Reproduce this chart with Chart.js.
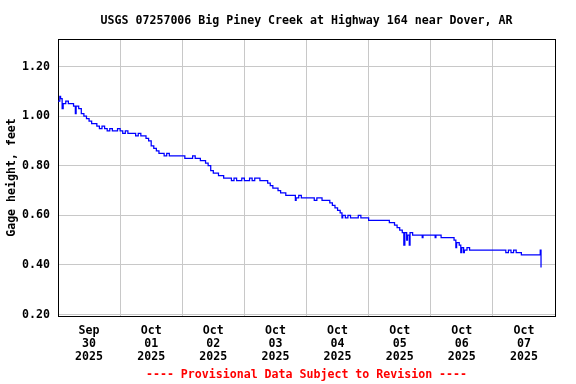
<!DOCTYPE html>
<html><head><meta charset="utf-8">
<script src="https://cdn.jsdelivr.net/npm/chart.js@4/dist/chart.umd.min.js"></script>
<style>html,body{margin:0;padding:0;background:#fff}#wrap{width:576px;height:384px}</style>
</head><body><div id="wrap"><canvas id="c" width="576" height="384"></canvas></div>
<script>
const titleText = 'USGS 07257006 Big Piney Creek at Highway 164 near Dover, AR';
const yAxisTitle = 'Gage height, feet';
const footerText = '---- Provisional Data Subject to Revision ----';
const tickMonths = ['Sep', 'Oct', 'Oct', 'Oct', 'Oct', 'Oct', 'Oct', 'Oct'];
const tickDays = ['30', '01', '02', '03', '04', '05', '06', '07'];
const tickYears = ['2025', '2025', '2025', '2025', '2025', '2025', '2025', '2025'];
const yTicks = [0.20, 0.40, 0.60, 0.80, 1.00, 1.20];
// hourly gage height (feet), hour 0 = Sep 30 00:00
const gageHourly = [
1.06,1.07,1.05,1.06,1.05,1.05,1.04,1.04,1.03,1.01,
1.00,0.99,0.98,0.97,0.97,0.96,0.95,0.96,0.95,0.94,
0.95,0.94,0.94,0.95,0.94,0.93,0.94,0.93,0.93,0.93,
0.92,0.93,0.92,0.92,0.91,0.90,0.88,0.87,0.86,0.85,
0.85,0.84,0.85,0.84,0.84,0.84,0.84,0.84,0.84,0.83,
0.83,0.83,0.84,0.83,0.83,0.82,0.82,0.81,0.80,0.78,
0.77,0.77,0.76,0.76,0.75,0.75,0.75,0.74,0.75,0.74,
0.74,0.75,0.74,0.74,0.75,0.74,0.75,0.75,0.74,0.74,
0.74,0.73,0.72,0.71,0.71,0.70,0.69,0.69,0.68,0.68,
0.68,0.68,0.67,0.68,0.67,0.67,0.67,0.67,0.67,0.66,
0.67,0.67,0.66,0.66,0.66,0.65,0.64,0.63,0.62,0.61,
0.60,0.59,0.60,0.59,0.59,0.59,0.60,0.59,0.59,0.59,
0.58,0.58,0.58,0.58,0.58,0.58,0.58,0.58,0.57,0.57,
0.56,0.55,0.54,0.53,0.53,0.52,0.53,0.52,0.52,0.52,
0.52,0.52,0.52,0.52,0.52,0.52,0.52,0.52,0.51,0.51,
0.51,0.51,0.51,0.50,0.49,0.48,0.47,0.46,0.47,0.46,
0.46,0.46,0.46,0.46,0.46,0.46,0.46,0.46,0.46,0.46,
0.46,0.46,0.46,0.45,0.46,0.45,0.46,0.45,0.45,0.44,
0.44,0.44,0.44,0.44,0.44,0.44,0.44
];
// brief readings between the hourly values (spikes)
const spikeHours = [0.7, 1.6, 6.7, 91.7, 109.7, 133.6, 134.7, 135.7, 140.7, 145.7, 153.7, 155.6, 156.7, 186.3, 186.6];
const spikeGage  = [1.08, 1.03, 1.01, 0.66, 0.59, 0.48, 0.50, 0.48, 0.51, 0.51, 0.47, 0.45, 0.45, 0.46, 0.39];

const FONT = '"DejaVu Sans Mono", "Liberation Mono", monospace';
const points = gageHourly.map((v, i) => ({x: i, y: v}))
  .concat(spikeHours.map((h, i) => ({x: h, y: spikeGage[i]})))
  .sort((a, b) => a.x - b.x);

const framePlugin = {
  id: 'frame',
  beforeDatasetsDraw(chart) {
    const a = chart.chartArea, ctx = chart.ctx;
    ctx.save();
    ctx.strokeStyle = '#000';
    ctx.lineWidth = 1;
    ctx.strokeRect(a.left + 0.5, a.top + 0.5, a.right - a.left, a.bottom - a.top);
    ctx.restore();
  }
};

new Chart(document.getElementById('c'), {
  type: 'line',
  data: { datasets: [{ data: points, borderColor: '#0000ff', borderWidth: 1.25, pointRadius: 0, stepped: true, fill: false, tension: 0 }] },
  options: {
    responsive: false, animation: false, devicePixelRatio: 1,
    layout: { padding: { left: 0, right: 21, top: 0, bottom: 0 } },
    plugins: {
      legend: { display: false }, tooltip: { enabled: false },
      title: { display: true, text: titleText, fullSize: false, color: '#000',
        font: { family: FONT, size: 11.6, weight: 'bold', lineHeight: '15px' }, padding: { top: 13, bottom: 11 } },
      subtitle: { display: true, text: footerText, position: 'bottom', fullSize: false, color: '#ff0000',
        font: { family: FONT, size: 11.6, weight: 'bold', lineHeight: '15px' }, padding: { top: 4, bottom: 2 } }
    },
    scales: {
      x: {
        type: 'linear', min: 0, max: 192,
        afterBuildTicks: s => { const t = []; for (let v = 0; v <= 192; v += 12) t.push({value: v}); s.ticks = t; },
        afterFit: s => { s.height = 47; },
        border: { display: false },
        grid: { drawTicks: false, lineWidth: 1, color: c => (c.tick && c.tick.value % 24 === 0) ? '#c8c8c8' : 'rgba(0,0,0,0)' },
        ticks: { autoSkip: false, maxRotation: 0, minRotation: 0, padding: 8, color: '#000',
          font: { family: FONT, size: 11.6, weight: 'bold', lineHeight: 13 / 11.6 },
          callback: v => { if (v % 24 !== 12) return ''; const k = (v - 12) / 24; return [tickMonths[k], tickDays[k], tickYears[k]]; } }
      },
      y: {
        type: 'linear', min: 0.194, max: 1.3109,
        afterBuildTicks: s => { s.ticks = yTicks.map(v => ({value: v})); },
        afterFit: s => { s.width = 58; },
        border: { display: false },
        grid: { drawTicks: false, lineWidth: 1, color: '#c8c8c8' },
        ticks: { padding: 8, color: '#000', font: { family: FONT, size: 11.6, weight: 'bold' }, callback: v => Number(v).toFixed(2) },
        title: { display: true, text: yAxisTitle, color: '#000', font: { family: FONT, size: 11.6, weight: 'bold' }, padding: { top: 5, bottom: 0 } }
      }
    }
  },
  plugins: [framePlugin]
});
</script></body></html>
